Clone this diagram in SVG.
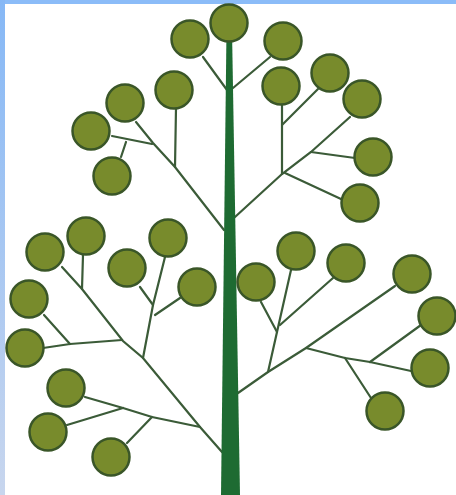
<svg xmlns="http://www.w3.org/2000/svg" width="456" height="495" viewBox="0 0 456 495">
<defs>
<linearGradient id="side" x1="0" y1="0" x2="0" y2="1">
<stop offset="0" stop-color="#86b8f6"/>
<stop offset="1" stop-color="#c8d6ee"/>
</linearGradient>
<style>
.br{stroke:#3b5b38;stroke-width:2.2;fill:none;stroke-linecap:round}
.lf{fill:#788b2c;stroke:#3a5628;stroke-width:2.5}
</style>
</defs>
<rect x="0" y="0" width="456" height="495" fill="#ffffff"/>
<rect x="0" y="0" width="456" height="4" fill="#8bbcf8"/>
<rect x="0" y="0" width="5" height="495" fill="url(#side)"/>
<g id="connectors">
<polyline class="br" points="203,57 227,90"/>
<polyline class="br" points="270,57 233,88"/>
<polyline class="br" points="136,122 153,143 175,167 224,230"/>
<polyline class="br" points="176,108 175,167"/>
<polyline class="br" points="112,136 152,144"/>
<polyline class="br" points="126,142 121,157"/>
<polyline class="br" points="282,105 282,174"/>
<polyline class="br" points="282,125 318,89"/>
<polyline class="br" points="235,217 282,174 311,152 350,117"/>
<polyline class="br" points="311,152 355,158"/>
<polyline class="br" points="285,173 341,199"/>
<polyline class="br" points="62,267 82,289 123,341 143,358 200,427 222,452"/>
<polyline class="br" points="83,255 82,289"/>
<polyline class="br" points="165,257 153,305 143,358"/>
<polyline class="br" points="140,287 153,305"/>
<polyline class="br" points="180,298 155,315"/>
<polyline class="br" points="122,340 70,344 43,348"/>
<polyline class="br" points="70,344 44,315"/>
<polyline class="br" points="200,427 152,417 123,408 85,397"/>
<polyline class="br" points="123,408 67,425"/>
<polyline class="br" points="152,417 127,443"/>
<polyline class="br" points="238,393 268,372 306,348 395,286"/>
<polyline class="br" points="268,372 277,332 291,270"/>
<polyline class="br" points="261,302 277,332"/>
<polyline class="br" points="280,325 333,278"/>
<polyline class="br" points="306,348 345,358 370,362 411,371"/>
<polyline class="br" points="370,362 421,325"/>
<polyline class="br" points="345,358 371,398"/>
</g>
<g id="trunk"><polygon points="226.5,30 232,30 240,495 221,495" fill="#1e6b32"/></g>
<g id="leaf1"><circle class="lf" cx="229" cy="23" r="18.5"/></g>
<g id="leaf2"><circle class="lf" cx="190" cy="39" r="18.5"/></g>
<g id="leaf3"><circle class="lf" cx="283" cy="41" r="18.5"/></g>
<g id="leaf4"><circle class="lf" cx="174" cy="90" r="18.5"/></g>
<g id="leaf5"><circle class="lf" cx="281" cy="86" r="18.5"/></g>
<g id="leaf6"><circle class="lf" cx="330" cy="73" r="18.5"/></g>
<g id="leaf7"><circle class="lf" cx="125" cy="103" r="18.5"/></g>
<g id="leaf8"><circle class="lf" cx="362" cy="99" r="18.5"/></g>
<g id="leaf9"><circle class="lf" cx="91" cy="131" r="18.5"/></g>
<g id="leaf10"><circle class="lf" cx="112" cy="176" r="18.5"/></g>
<g id="leaf11"><circle class="lf" cx="373" cy="157" r="18.5"/></g>
<g id="leaf12"><circle class="lf" cx="360" cy="203" r="18.5"/></g>
<g id="leaf13"><circle class="lf" cx="86" cy="236" r="18.5"/></g>
<g id="leaf14"><circle class="lf" cx="45" cy="252" r="18.5"/></g>
<g id="leaf15"><circle class="lf" cx="168" cy="238" r="18.5"/></g>
<g id="leaf16"><circle class="lf" cx="296" cy="251" r="18.5"/></g>
<g id="leaf17"><circle class="lf" cx="127" cy="268" r="18.5"/></g>
<g id="leaf18"><circle class="lf" cx="346" cy="263" r="18.5"/></g>
<g id="leaf19"><circle class="lf" cx="256" cy="282" r="18.5"/></g>
<g id="leaf20"><circle class="lf" cx="197" cy="287" r="18.5"/></g>
<g id="leaf21"><circle class="lf" cx="412" cy="274" r="18.5"/></g>
<g id="leaf22"><circle class="lf" cx="29" cy="299" r="18.5"/></g>
<g id="leaf23"><circle class="lf" cx="437" cy="316" r="18.5"/></g>
<g id="leaf24"><circle class="lf" cx="25" cy="348" r="18.5"/></g>
<g id="leaf25"><circle class="lf" cx="430" cy="368" r="18.5"/></g>
<g id="leaf26"><circle class="lf" cx="66" cy="388" r="18.5"/></g>
<g id="leaf27"><circle class="lf" cx="385" cy="411" r="18.5"/></g>
<g id="leaf28"><circle class="lf" cx="48" cy="432" r="18.5"/></g>
<g id="leaf29"><circle class="lf" cx="111" cy="457" r="18.5"/></g>
</svg>
